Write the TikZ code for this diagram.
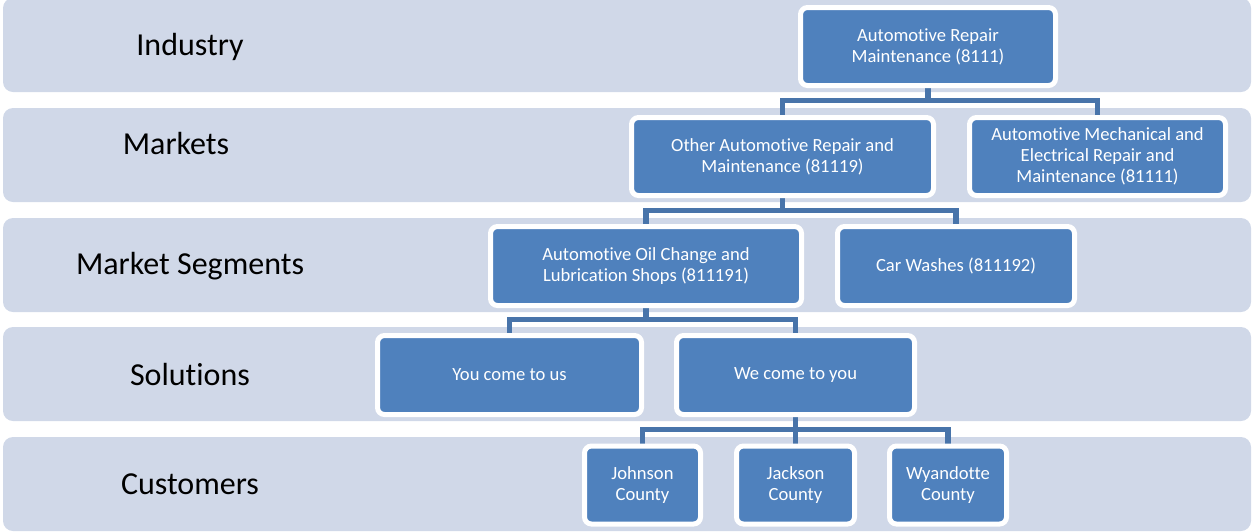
\documentclass[tikz,border=0pt]{standalone}
\usepackage{fontspec}
\setmainfont[Ligatures=NoCommon]{Carlito}
\usetikzlibrary{backgrounds}
\definecolor{bandc}{RGB}{208,216,232}
\definecolor{boxc}{RGB}{79,129,189}
\definecolor{linkc}{RGB}{72,116,170}
\pgfdeclarelayer{bands}
\pgfdeclarelayer{links}
\pgfsetlayers{bands,links,main}
\tikzset{
  band/.style={fill=bandc, draw=none, rounded corners=5pt},
  lvl/.style={font=\fontsize{16}{19}\selectfont, text=black, inner sep=0pt},
  box/.style={fill=boxc, draw=white, line width=2.5pt, rounded corners=3.5pt,
     text=white, align=center, inner sep=2pt,
     font=\fontsize{9.3}{10.5}\selectfont},
  link/.style={draw=linkc, line width=2.6pt}
}
\begin{document}
\begin{tikzpicture}[x=0.5pt,y=-0.5pt]
\useasboundingbox (0,0) rectangle (1252,531);
% level labels
\node[lvl] (l1) at (190,46.5) {Industry};
\node[lvl] (l2) at (176,144) {Markets};
\node[lvl] (l3) at (190,266) {Market Segments};
\node[lvl] (l4) at (190,374) {Solutions};
\node[lvl] (l5) at (190,484.5) {Customers};
% boxes
\node[box, minimum width=127.5pt, minimum height=39pt] (ind) at (928,46.5) {Automotive Repair\\Maintenance (8111)};
\node[box, minimum width=151pt, minimum height=39pt] (mk1) at (782.5,156.5) {Other Automotive Repair and\\Maintenance (81119)};
\node[box, minimum width=128pt, minimum height=39pt] (mk2) at (1097.5,156.5) {Automotive Mechanical and\\Electrical Repair and\\Maintenance (81111)};
\node[box, minimum width=155.5pt, minimum height=39.5pt] (sg1) at (646,266) {Automotive Oil Change and\\Lubrication Shops (811191)};
\node[box, minimum width=118.5pt, minimum height=39.5pt] (sg2) at (956,266) {Car Washes (811192)};
\node[box, minimum width=132pt, minimum height=39.5pt] (so1) at (509.5,375) {You come to us};
\node[box, minimum width=119pt, minimum height=39.5pt] (so2) at (795.5,375) {We come to you};
\node[box, minimum width=58pt, minimum height=39pt] (cu1) at (642.5,485) {Johnson\\County};
\node[box, minimum width=59pt, minimum height=39pt] (cu2) at (795.5,485) {Jackson\\County};
\node[box, minimum width=58.5pt, minimum height=39pt] (cu3) at (948,485) {Wyandotte\\County};
% bar levels
\coordinate (b1) at (0,100.5);
\coordinate (b2) at (0,210.5);
\coordinate (b3) at (0,319.5);
\coordinate (b4) at (0,429.5);
\begin{pgfonlayer}{bands}
\fill[band] (3,-2) rectangle (1251,92);
\fill[band] (3,108) rectangle (1251,202);
\fill[band] (3,218) rectangle (1251,312);
\fill[band] (3,327) rectangle (1251,421);
\fill[band] (3,437) rectangle (1251,531);
\end{pgfonlayer}
\begin{pgfonlayer}{links}
\draw[link] (ind.south) -- (ind.south |- b1) -| (mk1.north);
\draw[link] (ind.south |- b1) -| (mk2.north);
\draw[link] (mk1.south) -- (mk1.south |- b2) -| (sg1.north);
\draw[link] (mk1.south |- b2) -| (sg2.north);
\draw[link] (sg1.south) -- (sg1.south |- b3) -| (so1.north);
\draw[link] (sg1.south |- b3) -| (so2.north);
\draw[link] (so2.south) -- (so2.south |- b4) -| (cu1.north);
\draw[link] (so2.south |- b4) -| (cu2.north);
\draw[link] (so2.south |- b4) -| (cu3.north);
\end{pgfonlayer}
\end{tikzpicture}
\end{document}
